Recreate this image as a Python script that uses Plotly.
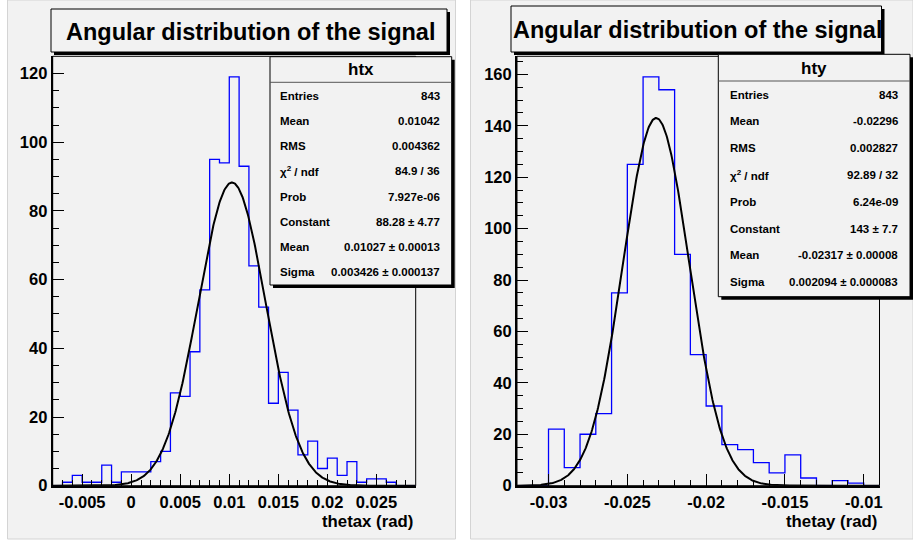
import numpy as np
import plotly.graph_objects as go

W, H = 913, 540

# ---------------- data ----------------
title_text = "Angular distribution of the signal"

# htx histogram: 37 bins of width 0.001 from -0.008 to 0.029
htx_range = (-0.008, 0.029)
htx_counts = [0, 1, 3, 1, 1, 6, 1, 4, 4, 4, 7, 10, 27, 26, 39, 57, 95, 94, 119, 93,
              64, 52, 24, 33, 22, 9, 13, 5, 8, 3, 7, 1, 2, 2, 1, 0, 0]
htx_fit = dict(constant=88.28, mean=0.01027, sigma=0.003426)
htx_tickvals = [-0.005, 0, 0.005, 0.01, 0.015, 0.02, 0.025]
htx_ticktext = ["-0.005", "0", "0.005", "0.01", "0.015", "0.02", "0.025"]
htx_ymax = 125
htx_stats_labels = ["Entries", "Mean", "RMS", "χ<sup>2</sup> / ndf", "Prob", "Constant", "Mean", "Sigma"]
htx_stats_values = ["843", "0.01042", "0.004362", "84.9 / 36", "7.927e-06",
                    "88.28 ± 4.77", "0.01027 ± 0.00013", "0.003426 ± 0.000137"]

# hty histogram: 23 bins of width 0.001 from -0.032 to -0.009
hty_range = (-0.032, -0.009)
hty_counts = [0, 0, 22, 7, 20, 28, 75, 125, 159, 154, 90, 51, 31, 16, 14, 9, 5, 12,
              3, 0, 2, 1, 0]
hty_fit = dict(constant=143.0, mean=-0.02317, sigma=0.002094)
hty_tickvals = [-0.03, -0.025, -0.02, -0.015, -0.01]
hty_ticktext = ["-0.03", "-0.025", "-0.02", "-0.015", "-0.01"]
hty_ymax = 167
hty_stats_labels = ["Entries", "Mean", "RMS", "χ<sup>2</sup> / ndf", "Prob", "Constant", "Mean", "Sigma"]
hty_stats_values = ["843", "-0.02296", "0.002827", "92.89 / 32", "6.24e-09",
                    "143 ± 7.7", "-0.02317 ± 0.00008", "0.002094 ± 0.000083"]

y_tickvals = [0, 20, 40, 60, 80, 100, 120, 140, 160]

# ---------------- helpers ----------------
FONT = "Liberation Sans, Arial, Helvetica, sans-serif"
BG = "#f2f2f2"


def px(x):
    return x / W


def py(y):
    return 1 - y / H


def rect(x0, y0, x1, y1, fill=None, line="black", lw=1):
    return dict(type="rect", xref="paper", yref="paper",
                x0=px(x0), x1=px(x1), y0=py(y1), y1=py(y0),
                fillcolor=fill if fill else "rgba(0,0,0,0)",
                line=dict(color=line, width=lw), layer="above")


def step_xy(rng, counts):
    n = len(counts)
    edges = np.linspace(rng[0], rng[1], n + 1)
    ys = list(counts) + [counts[-1]]
    return edges, ys


def gauss(rng, p):
    x = np.linspace(rng[0], rng[1], 600)
    return x, p["constant"] * np.exp(-0.5 * ((x - p["mean"]) / p["sigma"]) ** 2)


fig = go.Figure()

panels = [
    dict(rng=htx_range, counts=htx_counts, fit=htx_fit, xa="x", ya="y",
         dom=(52.7, 415.7), tv=htx_tickvals, tt=htx_ticktext, ymax=htx_ymax,
         xtitle="thetax (rad)", name="htx",
         labels=htx_stats_labels, values=htx_stats_values,
         title_box=(51, 9, 447, 52),
         stat_box=(270, 56.7, 451.7, 285), head_y=69.5, sep_y=82.3,
         row0=95.7, drow=25.2, lab_x=278.3, val_x=441.5),
    dict(rng=hty_range, counts=hty_counts, fit=hty_fit, xa="x2", ya="y2",
         dom=(517, 879.5), tv=hty_tickvals, tt=hty_ticktext, ymax=hty_ymax,
         xtitle="thetay (rad)", name="hty",
         labels=hty_stats_labels, values=hty_stats_values,
         title_box=(511, 6, 881.5, 52),
         stat_box=(718.3, 54.3, 910, 296.7), head_y=68.5, sep_y=81,
         row0=94.5, drow=26.8, lab_x=727.7, val_x=899.5),
]

shapes = []
annotations = []

# pads
shapes.append(dict(type="rect", xref="paper", yref="paper", x0=px(7.5), x1=px(455.5),
                   y0=py(539), y1=py(0), fillcolor=BG, line=dict(color="#d4d4d4", width=1),
                   layer="below"))
shapes.append(dict(type="rect", xref="paper", yref="paper", x0=px(470.5), x1=px(913),
                   y0=py(539), y1=py(0), fillcolor=BG, line=dict(color="#d4d4d4", width=1),
                   layer="below"))

FRAME_TOP, FRAME_BOT = 56.3, 485.7

for i, p in enumerate(panels):
    ex, ey = step_xy(p["rng"], p["counts"])
    fig.add_trace(go.Scatter(x=ex, y=ey, mode="lines", line=dict(color="#0000ff", width=1.3, shape="hv"),
                             xaxis=p["xa"], yaxis=p["ya"], showlegend=False, hoverinfo="skip"))
    gx, gy = gauss(p["rng"], p["fit"])
    fig.add_trace(go.Scatter(x=gx, y=gy, mode="lines", line=dict(color="black", width=2),
                             xaxis=p["xa"], yaxis=p["ya"], showlegend=False, hoverinfo="skip"))

    xkey = "xaxis" if i == 0 else "xaxis2"
    ykey = "yaxis" if i == 0 else "yaxis2"
    fig.update_layout(**{
        xkey: dict(domain=[px(p["dom"][0]), px(p["dom"][1])], range=list(p["rng"]),
                   anchor=p["ya"], showgrid=False, zeroline=False, automargin=False,
                   showline=True, linecolor="black", linewidth=2,
                   tickmode="array", tickvals=p["tv"], ticktext=p["tt"],
                   ticks="inside", ticklen=12, tickwidth=1, tickcolor="black",
                   minor=dict(ticks="inside", ticklen=6, tickwidth=1, tickcolor="black",
                              tickmode="linear", tick0=0, dtick=0.001, showgrid=False),
                   tickfont=dict(family=FONT, size=16.5, color="black", weight="bold"),
                   fixedrange=True),
        ykey: dict(domain=[py(FRAME_BOT), py(FRAME_TOP)], range=[0, p["ymax"]],
                   anchor=p["xa"], showgrid=False, zeroline=False, automargin=False,
                   showline=True, linecolor="black", linewidth=2,
                   tickmode="array", tickvals=[v for v in y_tickvals if v <= p["ymax"]],
                   ticks="inside", ticklen=11, tickwidth=1, tickcolor="black",
                   minor=dict(ticks="inside", ticklen=6, tickwidth=1, tickcolor="black",
                              tickmode="linear", tick0=0, dtick=5, showgrid=False),
                   tickfont=dict(family=FONT, size=16.5, color="black", weight="bold"),
                   fixedrange=True),
    })

    # thin frame (top/right)
    x0, x1 = p["dom"]
    shapes.append(rect(x0, FRAME_TOP, x1, FRAME_BOT, lw=1))

    # title box with shadow
    tx0, ty0, tx1, ty1 = p["title_box"]
    shapes.append(rect(tx0 + 3, ty0 + 3, tx1 + 3, ty1 + 3, fill="black", lw=0))
    shapes.append(rect(tx0, ty0, tx1, ty1, fill=BG, lw=1))
    annotations.append(dict(xref="paper", yref="paper", x=px((tx0 + tx1) / 2 + 1),
                            y=py((ty0 + ty1) / 2 + 1), text=title_text, showarrow=False,
                            xanchor="center", yanchor="middle",
                            font=dict(family=FONT, size=23.5, color="black", weight="bold")))

    # stat box with shadow
    sx0, sy0, sx1, sy1 = p["stat_box"]
    shapes.append(rect(sx0 + 3, sy0 + 3, sx1 + 3, sy1 + 3, fill="black", lw=0))
    shapes.append(rect(sx0, sy0, sx1, sy1, fill=BG, lw=1))
    shapes.append(dict(type="line", xref="paper", yref="paper", x0=px(sx0), x1=px(sx1),
                       y0=py(p["sep_y"]), y1=py(p["sep_y"]),
                       line=dict(color="#555555", width=1), layer="above"))
    annotations.append(dict(xref="paper", yref="paper", x=px((sx0 + sx1) / 2), y=py(p["head_y"]),
                            text=p["name"], showarrow=False, xanchor="center", yanchor="middle",
                            font=dict(family=FONT, size=17, color="black", weight="bold")))
    for k, (lab, val) in enumerate(zip(p["labels"], p["values"])):
        yy = p["row0"] + k * p["drow"]
        annotations.append(dict(xref="paper", yref="paper", x=px(p["lab_x"]), y=py(yy),
                                text=lab, showarrow=False, xanchor="left", yanchor="middle",
                                font=dict(family=FONT, size=11.5, color="black", weight="bold")))
        annotations.append(dict(xref="paper", yref="paper", x=px(p["val_x"]), y=py(yy),
                                text=val, showarrow=False, xanchor="right", yanchor="middle",
                                font=dict(family=FONT, size=11.5, color="black", weight="bold")))

    # axis title
    annotations.append(dict(xref="paper", yref="paper", x=px(x1 - 1), y=py(521.7),
                            text=p["xtitle"], showarrow=False, xanchor="right", yanchor="middle",
                            font=dict(family=FONT, size=16.8, color="black", weight="bold")))

fig.update_layout(width=W, height=H, margin=dict(l=0, r=0, t=0, b=0, autoexpand=False),
                  paper_bgcolor="white", plot_bgcolor=BG,
                  shapes=shapes, annotations=annotations, showlegend=False)

post = (
    "var d=document.documentElement,b=document.body;"
    "d.style.margin='0';d.style.padding='0';d.style.overflow='hidden';d.style.height='540px';"
    "b.style.margin='0';b.style.padding='0';b.style.overflow='hidden';b.style.height='540px';"
    "var g=document.getElementById('{plot_id}');"
    "if(g&&g.parentElement){g.parentElement.style.lineHeight='0';g.parentElement.style.height='540px';}"
)

fig.write_html("out.html", config={"displayModeBar": False, "responsive": False},
               post_script=post)
